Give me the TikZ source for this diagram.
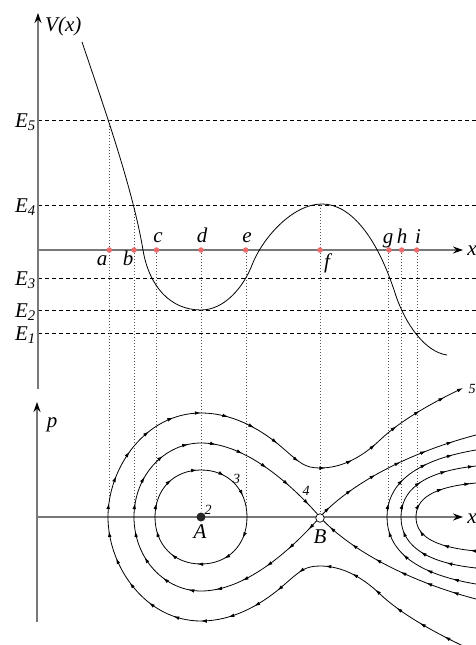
\documentclass[tikz,border=0pt]{standalone}
\usepackage{fontspec}
\setmainfont{Liberation Serif}
\usetikzlibrary{arrows.meta,decorations.markings}
\definecolor{axgray}{HTML}{787878}
\definecolor{dotred}{HTML}{EE6B6B}
\definecolor{dotgray}{HTML}{555555}
\begin{document}
\begin{tikzpicture}[x=1pt,y=-1pt,
  axisln/.style={draw=axgray,line width=1.3pt,-{Stealth[length=10pt,width=7pt,color=black]}},
  levelln/.style={draw=black,line width=0.6pt,dash pattern=on 4pt off 3pt},
  dropln/.style={draw=dotgray,line width=0.8pt,dash pattern=on 0.9pt off 2.1pt},
  pot/.style={draw=black,line width=0.8pt},
  orbit/.style={draw=black,line width=0.8pt},
  fwd/.style={postaction={decorate},decoration={markings,mark=between positions 14pt and 1 step 28pt with {\arrow{Latex[length=6pt,width=3.6pt]}}}},
  bwd/.style={postaction={decorate},decoration={markings,mark=between positions 14pt and 1 step 28pt with {\arrowreversed{Latex[length=6pt,width=3.6pt]}}}},
  reddot/.style={circle,fill=dotred,inner sep=0pt,minimum size=5.5pt},
  lbl/.style={inner sep=0pt,anchor=base,font=\fontsize{21}{24}\selectfont\itshape},
  num/.style={inner sep=0pt,anchor=base,font=\fontsize{14}{16}\selectfont\itshape},
]
\useasboundingbox (0,0) rectangle (476,645);

% energy levels
\foreach \n/\yy in {5/120,4/205,3/278,2/310,1/333} {
  \coordinate (L\n a) at (38,\yy);
  \coordinate (L\n b) at (476,\yy);
  \draw[levelln] (L\n a) -- (L\n b);
  \node[lbl,anchor=base east] (E\n) at (36,\yy+7.5) {E\textsubscript{\n}};
}

% dotted drop lines
\foreach \nm/\xx/\ya/\yb in {a/109/120/503, b/134/205/503, c/156/250/505, d/201/250/511, e/246/250/507, f/320/205/512, g/388/250/505, h/401.5/250/506, i/417/250/506} {
  \coordinate (T\nm) at (\xx,\ya);
  \coordinate (P\nm) at (\xx,\yb);
  \draw[dropln] (T\nm) -- (P\nm);
}

% axes
\coordinate (Vbot) at (38,389); \coordinate (Vtop) at (38,13);
\draw[axisln] (Vbot) -- (Vtop);
\coordinate (Xo) at (38,250); \coordinate (Xe) at (463,250);
\draw[axisln] (Xo) -- (Xe);
\coordinate (Pbot) at (37,622); \coordinate (Ptop) at (37,402);
\draw[axisln] (Pbot) -- (Ptop);
\coordinate (Xo2) at (37,517); \coordinate (Xe2) at (463,517);
\draw[axisln] (Xo2) -- (Xe2);

\node[lbl,anchor=base west] (Vlab) at (45,31) {V(x)};
\node[lbl] (xlab) at (472,255) {x};
\node[lbl] (plab) at (52,427) {p};
\node[lbl] (xlab2) at (472,523) {x};

% potential curve
\draw[pot] (82,42) .. controls (105,110) and (133,190) .. (143,250)
  .. controls (149,286) and (170,310) .. (201,310)
  .. controls (225,310) and (244,286) .. (252,265)
  .. controls (262,239) and (292,204) .. (322,204)
  .. controls (352,204) and (378,240) .. (395,293)
  .. controls (405,324) and (425,352) .. (447,355);

% red points
\foreach \nm/\xx in {a/109.3,b/134,c/156.5,d/201,e/245.7,f/320,g/389,h/401.7,i/416.7} {
  \node[reddot] (d\nm) at (\xx,250) {};
}
\node[lbl] (la) at (102,265) {a};
\node[lbl] (lb) at (128,265) {b};
\node[lbl] (lc) at (158,242) {c};
\node[lbl] (ld) at (202,242) {d};
\node[lbl] (le) at (247,242) {e};
\node[lbl] (lf) at (327,268) {f};
\node[lbl] (lg) at (388,243) {g};
\node[lbl] (lh) at (402,243) {h};
\node[lbl] (li) at (418,243) {i};

% phase orbits: upper halves
\def\orbC{(155,0) .. controls (155,-28) and (174,-47) .. (201,-47) .. controls (228,-47) and (247,-28) .. (247,0)}
\def\sepL{(134,0) .. controls (134,-42) and (165,-74) .. (201,-74) .. controls (240,-74) and (283,-42) .. (320,0)}
\def\sepR{(320,0) .. controls (345,-28) and (400,-62) .. (476,-82)}
\def\orbF{(108,0) .. controls (108,-50) and (146,-104) .. (201,-104) .. controls (235,-104) and (265,-85) .. (285,-67) .. controls (300,-54) and (305,-49) .. (320,-49) .. controls (340,-49) and (360,-58) .. (380,-77) .. controls (400,-96) and (430,-113) .. (463,-129)}
\def\orbG{(387,0) .. controls (387,-30) and (410,-56) .. (476,-67)}
\def\orbH{(401,0) .. controls (401,-25) and (420,-45) .. (476,-51)}
\def\orbI{(416,0) .. controls (416,-18) and (432,-30) .. (476,-34)}

\begin{scope}[shift={(0,517)}]
  \draw[orbit,fwd] \orbC;
  \draw[orbit,fwd] \sepL;
  \draw[orbit,fwd] \sepR;
  \draw[orbit,fwd,-{Latex[length=6pt,width=3.6pt]}] \orbF;
  \draw[orbit,fwd] \orbG;
  \draw[orbit,fwd] \orbH;
  \draw[orbit,fwd] \orbI;
\end{scope}
\begin{scope}[shift={(0,517)},yscale=-1]
  \draw[orbit,bwd] \orbC;
  \draw[orbit,bwd] \sepL;
  \draw[orbit,bwd] \sepR;
  \draw[orbit,bwd] \orbF;
  \draw[orbit,bwd] \orbG;
  \draw[orbit,bwd] \orbH;
  \draw[orbit,bwd] \orbI;
\end{scope}

% equilibria
\node[circle,fill=black!85,inner sep=0pt,minimum size=9pt] (A) at (201,517) {};
\node[circle,draw=black,fill=white,line width=0.7pt,inner sep=0pt,minimum size=8.5pt] (B) at (320,518) {};
\node[lbl] (Alab) at (200,538) {A};
\node[lbl] (Blab) at (320,543) {B};
\node[num] (n2) at (208,514) {2};
\node[num] (n3) at (236.5,483) {3};
\node[num] (n4) at (306,495) {4};
\node[num] (n5) at (472,393) {5};
\end{tikzpicture}
\end{document}
